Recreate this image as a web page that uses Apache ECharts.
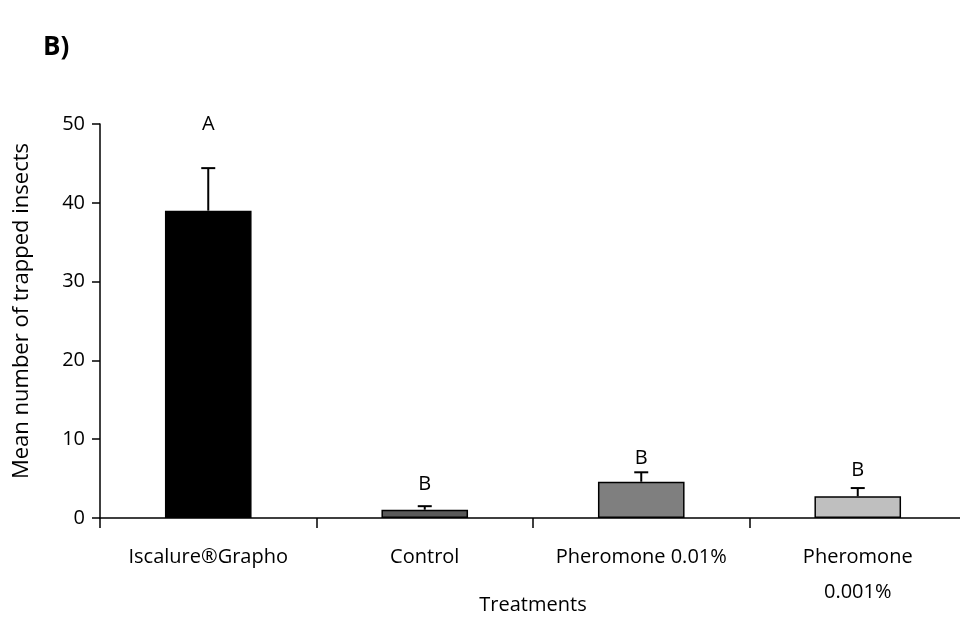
<!DOCTYPE html>
<html>
<head>
<meta charset="utf-8">
<script src="https://cdn.jsdelivr.net/npm/echarts@6/dist/echarts.min.js"></script>
<style>
  html, body { margin: 0; padding: 0; background: #fff; }
  #chart { width: 960px; height: 621px; }
</style>
</head>
<body>
<div id="chart"></div>
<script>
// values
const categories = ['Iscalure®Grapho', 'Control', 'Pheromone 0.01%', 'Pheromone\n0.001%'];
const means = [39.0, 1.05, 4.6, 2.75];
const upperErr = [44.4, 1.5, 5.8, 3.8];
const barColors = ['#000000', '#595959', '#7f7f7f', '#bfbfbf'];
const letters = ['A', 'B', 'B', 'B'];
const letterAt = [50, 4.3, 7.6, 6.1];
const yTicks = [0, 10, 20, 30, 40, 50];

const font = 'Open Sans';

const chart = echarts.init(document.getElementById('chart'));

const option = {
  animation: false,
  backgroundColor: '#fff',
  title: {
    text: 'B)',
    left: 38,
    top: 30,
    textStyle: { fontFamily: font, fontWeight: 'bold', fontSize: 26, color: '#000' }
  },
  grid: { left: 100, right: -6, top: 124, bottom: 103, outerBoundsMode: 'none' },
  xAxis: {
    type: 'category',
    data: categories,
    name: 'Treatments',
    nameLocation: 'middle',
    nameGap: 77,
    nameMoveOverlap: false,
    nameTextStyle: { fontFamily: font, fontSize: 20, color: '#000' },
    axisLine: { lineStyle: { color: '#000', width: 1.5 } },
    axisTick: { show: true, length: 10, lineStyle: { color: '#000', width: 1.5 } },
    axisLabel: { fontFamily: font, fontSize: 20, color: '#000', margin: 22, lineHeight: 35, interval: 0 }
  },
  yAxis: {
    type: 'value',
    min: 0,
    max: yTicks[yTicks.length - 1],
    interval: yTicks[1] - yTicks[0],
    name: 'Mean number of trapped insects',
    nameLocation: 'middle',
    nameGap: 67,
    nameMoveOverlap: false,
    nameTextStyle: { fontFamily: font, fontSize: 22, color: '#000', padding: [0, 0, 0, 20] },
    axisLine: { show: true, lineStyle: { color: '#000', width: 1.5 } },
    axisTick: { show: true, length: 8, lineStyle: { color: '#000', width: 1.5 } },
    splitLine: { show: false },
    axisLabel: { fontFamily: font, fontSize: 20, color: '#000', margin: 15 }
  },
  series: [
    {
      type: 'bar',
      barWidth: '40%',
      data: means.map((v, i) => ({
        value: v,
        itemStyle: { color: barColors[i], borderColor: '#000', borderWidth: 1.5 }
      }))
    },
    {
      type: 'custom',
      data: means.map((v, i) => [i, v, upperErr[i]]),
      z: 5,
      renderItem: function (params, api) {
        const base = api.coord([api.value(0), api.value(1)]);
        const top = api.coord([api.value(0), api.value(2)]);
        const cap = 7;
        return {
          type: 'group',
          children: [
            { type: 'line', shape: { x1: base[0], y1: base[1], x2: top[0], y2: top[1] }, style: { stroke: '#000', lineWidth: 2 } },
            { type: 'line', shape: { x1: top[0] - cap, y1: top[1], x2: top[0] + cap, y2: top[1] }, style: { stroke: '#000', lineWidth: 2 } }
          ]
        };
      }
    },
    {
      type: 'scatter',
      symbolSize: 0,
      itemStyle: { opacity: 1 },
      data: letterAt.map((v, i) => [i, v]),
      label: {
        show: true,
        position: 'inside',
        formatter: p => letters[p.dataIndex],
        fontFamily: font,
        fontSize: 20,
        color: '#000'
      }
    }
  ]
};

chart.setOption(option);
</script>
</body>
</html>
